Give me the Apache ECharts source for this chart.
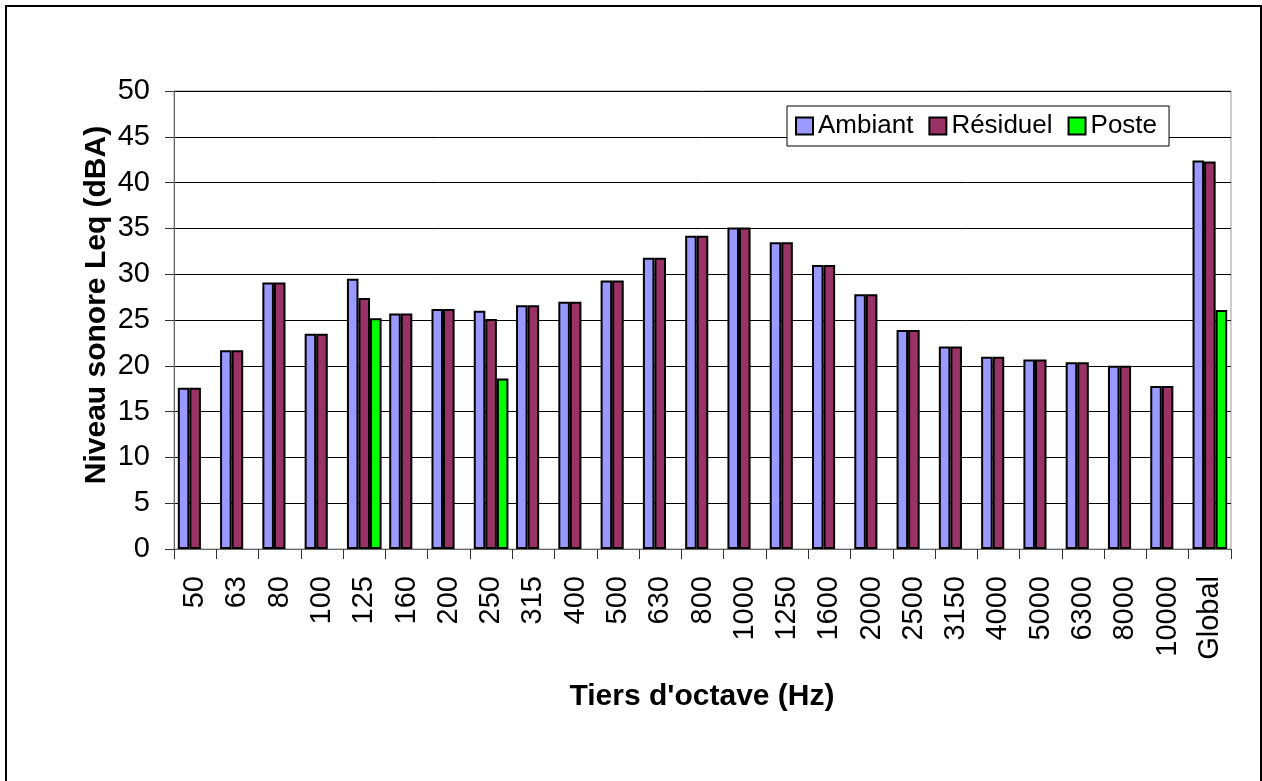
<!DOCTYPE html>
<html>
<head>
<meta charset="utf-8">
<script src="https://cdn.jsdelivr.net/npm/echarts@6/dist/echarts.min.js"></script>
<style>
html,body{margin:0;padding:0;background:#fff;}
#chart{width:1262px;height:781px;}
</style>
</head>
<body>
<div id="chart"></div>
<script>
var categories = ['50','63','80','100','125','160','200','250','315','400','500','630','800','1000','1250','1600','2000','2500','3150','4000','5000','6300','8000','10000','Global'];
var ambiant = [17.6,21.7,29.1,23.5,29.5,25.7,26.2,26.0,26.6,27.0,29.3,31.8,34.2,35.1,33.5,31.0,27.8,23.9,22.1,21.0,20.7,20.4,20.0,17.8,42.4];
var residuel = [17.6,21.7,29.1,23.5,27.4,25.7,26.2,25.1,26.6,27.0,29.3,31.8,34.2,35.1,33.5,31.0,27.8,23.9,22.1,21.0,20.7,20.4,20.0,17.8,42.3];
var poste = [null,null,null,null,25.2,null,null,18.6,null,null,null,null,null,null,null,null,null,null,null,null,null,null,null,null,26.1];
var seriesNames = ['Ambiant','Résiduel','Poste'];
var yTitle = 'Niveau sonore Leq (dBA)';
var xTitle = "Tiers d'octave (Hz)";

var FONT = "'Liberation Sans', Arial, sans-serif";
var chart = echarts.init(document.getElementById('chart'), null, {renderer:'canvas'});
var barStyle = function(c){ return {color:c, borderColor:'#000', borderWidth:2}; };
chart.setOption({
  animation:false,
  backgroundColor:'#fff',
  textStyle:{fontFamily:FONT},
  grid:{left:174, top:91, right:31, bottom:232, show:true, borderColor:'#999', borderWidth:1, backgroundColor:'transparent'},
  legend:{
    left:787, top:106, orient:'horizontal',
    padding:[7,12,7,8], itemGap:15, itemWidth:17, itemHeight:17,
    borderColor:'#000', borderWidth:1, backgroundColor:'#fff', borderRadius:0,
    icon:'rect',
    textStyle:{fontSize:26, color:'#000', fontFamily:FONT},
    data:seriesNames
  },
  xAxis:{
    type:'category', data:categories,
    axisLine:{lineStyle:{color:'#666', width:1}},
    axisTick:{show:true, length:10, interval:0, lineStyle:{color:'#333'}},
    axisLabel:{interval:0, rotate:90, fontSize:29, color:'#000', margin:27, fontFamily:FONT},
    splitLine:{show:false}
  },
  yAxis:{
    type:'value', min:0, max:50, interval:5,
    axisLine:{show:true, lineStyle:{color:'#666', width:1}},
    axisTick:{show:true, length:9, lineStyle:{color:'#333'}},
    axisLabel:{fontSize:29, color:'#000', margin:24, fontFamily:FONT},
    splitLine:{show:true, lineStyle:{color:'#000', width:1}}
  },
  series:[
    {name:seriesNames[0], type:'bar', data:ambiant, barGap:'0%', barCategoryGap:'18%', itemStyle:barStyle('#9999FF')},
    {name:seriesNames[1], type:'bar', data:residuel, barGap:'0%', barCategoryGap:'18%', itemStyle:barStyle('#993366')},
    {name:seriesNames[2], type:'bar', data:poste, barGap:'0%', barCategoryGap:'18%', itemStyle:barStyle('#00FF00')}
  ],
  graphic:[
    {type:'rect', shape:{x:6, y:6, width:1255, height:820}, style:{fill:'none', stroke:'#000', lineWidth:2}, silent:true, z:-10},
    {type:'text', x:97, y:305, rotation:Math.PI/2, style:{text:yTitle, font:'bold 30px '+FONT, fill:'#000', textAlign:'center', textVerticalAlign:'middle'}},
    {type:'text', x:702, y:697, style:{text:xTitle, font:'bold 30px '+FONT, fill:'#000', textAlign:'center', textVerticalAlign:'middle'}}
  ]
});
</script>
</body>
</html>
